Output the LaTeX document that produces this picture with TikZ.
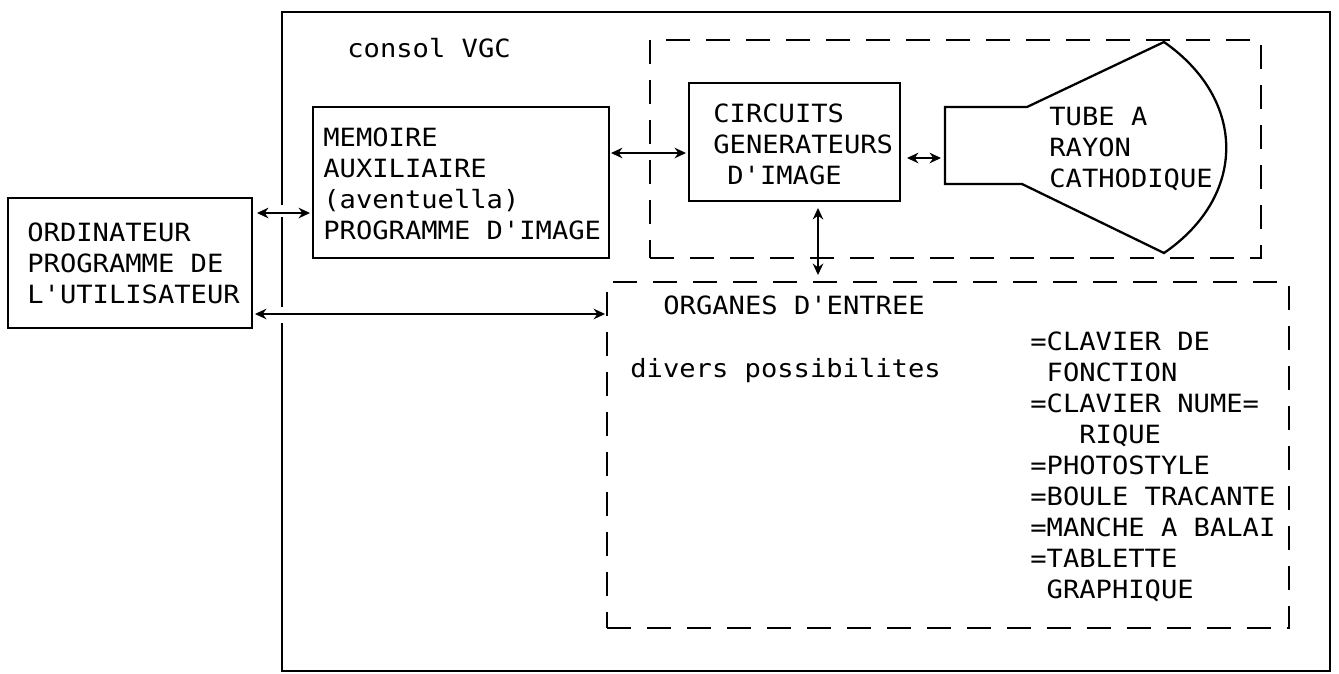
\documentclass[tikz,border=0pt]{standalone}
\usepackage{fontspec}
\newfontfamily\plotfont[FakeStretch=1.08]{DejaVu Sans Mono}
\usetikzlibrary{arrows.meta}
\tikzset{
  box/.style={draw, line width=1.3pt, inner sep=0pt, outer sep=0pt},
  dbox/.style={draw, line width=1.4pt, dash pattern=on 0.48cm off 0.32cm, inner sep=0pt, outer sep=0pt},
  txt/.style={inner sep=0pt, anchor=west, align=left, font=\plotfont\fontsize{14.3pt}{17.6pt}\selectfont},
  arr/.style={{Stealth[length=6.5pt,width=6pt]}-{Stealth[length=6.5pt,width=6pt]}, line width=1.2pt},
}
\begin{document}
\begin{tikzpicture}[x=0.02cm,y=-0.02cm]
\useasboundingbox (0,0) rectangle (1339,673);
% console VGC outline (with gaps where the links pass)
\draw[line width=1.3pt] (282,205) -- (282,12) -- (1330,12) -- (1330,671) -- (282,671) -- (282,323);
\draw[line width=1.3pt] (282,217) -- (282,307);
\node[txt] (consol) at (347,48) {consol VGC};

% boxes
\node[box, minimum width=4.88cm, minimum height=2.6cm] (ordi) at (130,263) {};
\node[box, minimum width=5.92cm, minimum height=3.02cm] (memoire) at (461,182.5) {};
\node[box, minimum width=4.22cm, minimum height=2.36cm] (circuits) at (794.5,142) {};
\node[dbox, minimum width=12.22cm, minimum height=4.36cm] (crt) at (955.5,149) {};
\node[dbox, minimum width=13.64cm, minimum height=6.92cm] (organes) at (948,455) {};

% cathode ray tube
\draw[line width=1.3pt] (945,107) -- (1027,107) -- (1164,42)
  .. controls (1247,100) and (1247,196) .. (1164,253)
  -- (1022,184) -- (945,184) -- cycle;
\coordinate (tubein) at (945,158);

% texts
\node[txt] (orditext) at (27,263) {ORDINATEUR\\PROGRAMME DE\\L'UTILISATEUR};
\node[txt] (memtext) at (323,184) {MEMOIRE\\AUXILIAIRE\\(aventuella)\\PROGRAMME D'IMAGE};
\node[txt] (circtext) at (713,144) {CIRCUITS\\GENERATEURS\\\hspace*{0.28cm}D'IMAGE};
\node[txt] (tubetext) at (1049,149) {TUBE A\\RAYON\\CATHODIQUE};
\node[txt] (orgtitle) at (663,305) {ORGANES D'ENTREE};
\node[txt] (divers) at (630,370) {divers possibilites};
\node[txt] (liste) at (1030,467) {=CLAVIER DE\\\phantom{=}FONCTION\\=CLAVIER NUME=\\\phantom{=CL}RIQUE\\=PHOTOSTYLE\\=BOULE TRACANTE\\=MANCHE A BALAI\\=TABLETTE\\\phantom{=}GRAPHIQUE};

% connectors
\coordinate (a1s) at ([yshift=-0.3cm]ordi.north east);
\draw[arr, shorten <=0.1cm, shorten >=0.06cm] (a1s) -- (a1s -| memoire.west);
\coordinate (a2s) at ([yshift=0.28cm]ordi.south east);
\draw[arr, shorten <=0.06cm, shorten >=0.04cm] (a2s) -- (a2s -| organes.west);
\coordinate (a3s) at ([yshift=-0.92cm]memoire.north east);
\draw[arr, shorten <=0.04cm, shorten >=0.06cm] (a3s) -- (a3s -| circuits.west);
\coordinate (a4s) at (circuits.east |- tubein);
\draw[arr, shorten <=0.14cm, shorten >=0.08cm] (a4s) -- (tubein);
\coordinate (a5s) at ([xshift=0.47cm]circuits.south);
\draw[arr, shorten <=0.14cm, shorten >=0.14cm] (a5s) -- (a5s |- organes.north);
\end{tikzpicture}
\end{document}
